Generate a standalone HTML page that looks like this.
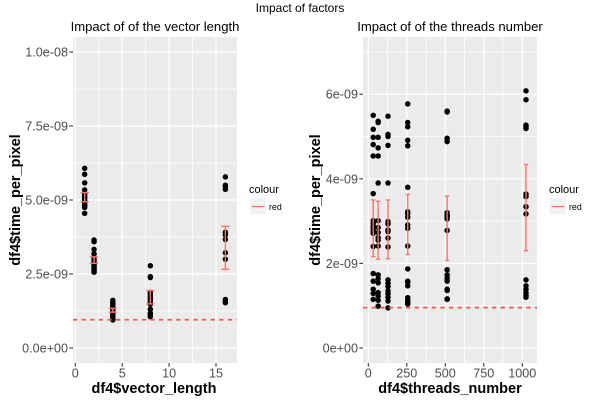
<!DOCTYPE html>
<html>
<head>
<meta charset="utf-8">
<style>
html,body{margin:0;padding:0;background:#fff;}
svg{display:block;font-family:"Liberation Sans",sans-serif;}
</style>
</head>
<body>
<svg id="chart" width="600" height="400" viewBox="0 0 600 400" xmlns="http://www.w3.org/2000/svg">
  <rect x="0" y="0" width="600" height="400" fill="#fff"/>
  <text x="300" y="12" font-size="12" text-anchor="middle" fill="#000">Impact of factors</text>

  <text x="155" y="31" font-size="13.1" text-anchor="middle" fill="#000">Impact of of the vector length</text>
  <text x="450" y="31" font-size="13.1" text-anchor="middle" fill="#000">Impact of of the threads number</text>

  <rect x="73" y="37" width="164" height="326" fill="#EBEBEB"/>
  <rect x="363" y="37" width="174" height="326" fill="#EBEBEB"/>
  <g id="left-panel"></g>
  <g id="right-panel"></g>

  <text x="154" y="393" font-size="14.5" font-weight="bold" text-anchor="middle" fill="#000">df4$vector_length</text>
  <text x="450" y="393" font-size="14.5" font-weight="bold" text-anchor="middle" fill="#000">df4$threads_number</text>
  <text transform="translate(20,200) rotate(-90)" font-size="14.5" font-weight="bold" text-anchor="middle" fill="#000">df4$time_per_pixel</text>
  <text transform="translate(320,200) rotate(-90)" font-size="14.5" font-weight="bold" text-anchor="middle" fill="#000">df4$time_per_pixel</text>

  <g>
    <text x="249" y="193" font-size="11" fill="#000">colour</text>
    <rect x="250" y="198" width="16" height="16" fill="#F2F2F2"/>
    <line x1="251.6" x2="264.4" y1="206.5" y2="206.5" stroke="#F8766D" stroke-width="1.3"/>
    <text x="269" y="210" font-size="8.8" fill="#000">red</text>
  </g>
  <g>
    <text x="549" y="193" font-size="11" fill="#000">colour</text>
    <rect x="550" y="198" width="16" height="16" fill="#F2F2F2"/>
    <line x1="551.6" x2="564.4" y1="206.5" y2="206.5" stroke="#F8766D" stroke-width="1.3"/>
    <text x="569" y="210" font-size="8.8" fill="#000">red</text>
  </g>
</svg>
<script>
// All times are in units of 1e-9 seconds per pixel.
var vectorLengths = [1, 2, 4, 8, 16];
var vectorPoints1 = [6.07,5.87,5.58,5.34,5.22,5.15,5.08,5.02,4.96,4.90,4.85,4.80,4.75,4.55];
var vectorPoints2 = [3.65,3.59,3.33,3.18,3.06,2.97,2.90,2.85,2.80,2.75,2.70,2.65,2.60,2.56];
var vectorPoints4 = [1.61,1.53,1.47,1.40,1.33,1.27,1.20,1.13,1.07,1.00,0.95];
var vectorPoints8 = [2.78,2.41,2.38,1.88,1.82,1.75,1.68,1.62,1.55,1.48,1.31,1.18,1.12,1.06];
var vectorPoints16 = [5.78,5.50,5.45,5.36,3.91,3.82,3.67,3.22,3.00,1.64,1.59,1.53];
var vectorErrTop = [5.25,3.08,1.34,1.94,4.11];
var vectorErrBottom = [4.94,2.86,1.21,1.49,2.66];

var threadCounts = [32, 64, 128, 256, 512, 1024];
var threadPoints32 = [5.50,5.17,4.98,4.81,4.54,3.65,3.01,2.95,2.88,2.83,2.77,2.71,2.40,1.76,1.58,1.39,1.29,1.15];
var threadPoints64 = [5.36,5.33,4.98,4.73,4.54,3.90,3.01,2.85,2.73,2.61,2.55,2.41,1.73,1.64,1.54,1.31,1.23,1.13,0.99];
var threadPoints128 = [5.48,5.05,5.00,4.79,3.90,2.99,2.93,2.79,2.75,2.60,2.39,1.61,1.53,1.45,1.35,1.28,1.20,1.11,0.95];
var threadPoints256 = [5.77,5.33,5.23,4.91,4.78,3.80,3.22,3.17,3.09,2.91,2.83,2.41,1.87,1.58,1.55,1.47,1.19,1.13,1.07,1.04];
var threadPoints512 = [5.60,5.58,4.96,4.88,3.20,3.14,3.10,3.05,2.78,1.85,1.73,1.65,1.58,1.39,1.36,1.16,1.15];
var threadPoints1024 = [6.08,5.87,5.27,5.23,5.19,3.64,3.58,3.34,3.17,1.61,1.47,1.39,1.31,1.25,1.20];
var threadErrTop = [3.50,3.47,3.50,3.63,3.59,4.34];
var threadErrBottom = [2.16,2.10,2.11,2.21,2.07,2.30];

var referenceLevel = [0.955];

var leftXTicks = [0, 5, 10, 15];
var leftXTickLabels = ["0", "5", "10", "15"];
var leftXMinor = [2.5, 7.5, 12.5];
var leftYTicks = [0, 2.5, 5, 7.5, 10];
var leftYTickLabels = ["0.0e+00", "2.5e-09", "5.0e-09", "7.5e-09", "1.0e-08"];
var leftYMinor = [1.25, 3.75, 6.25, 8.75];

var rightXTicks = [0, 250, 500, 750, 1000];
var rightXTickLabels = ["0", "250", "500", "750", "1000"];
var rightXMinor = [125, 375, 625, 875];
var rightYTicks = [0, 2, 4, 6];
var rightYTickLabels = ["0e+00", "2e-09", "4e-09", "6e-09"];
var rightYMinor = [1, 3, 5, 7];

var NS = "http://www.w3.org/2000/svg";

function xLeft(v) { return 75.3 + v * 9.38; }
function yLeft(v) { return 348 - v * 29.6; }
function xRight(v) { return 368.3 + v * 0.154; }
function yRight(v) { return 348 - v * 42.3; }

function drawPanel(cfg) {
  var g = document.getElementById(cfg.id);
  var box = cfg.box;

  function line(x1, y1, x2, y2, stroke, width) {
    var el = document.createElementNS(NS, "line");
    el.setAttribute("x1", x1);
    el.setAttribute("y1", y1);
    el.setAttribute("x2", x2);
    el.setAttribute("y2", y2);
    el.setAttribute("stroke", stroke);
    el.setAttribute("stroke-width", width);
    return el;
  }

  cfg.yMinor.forEach(function (v) {
    var el = line(box.x0, cfg.y(v), box.x1, cfg.y(v), "#fff", 0.7);
    
    
    g.appendChild(el);
  });
  cfg.xMinor.forEach(function (v) {
    var el = line(cfg.x(v), box.y0, cfg.x(v), box.y1, "#fff", 0.7);
    
    
    g.appendChild(el);
  });
  cfg.yTicks.forEach(function (v, i) {
    var el = line(box.x0, cfg.y(v), box.x1, cfg.y(v), "#fff", 1.2);
    
    
    g.appendChild(el);
    var tick = line(box.x0 - 3.7, cfg.y(v), box.x0, cfg.y(v), "#333", 1.07);
    
    
    g.appendChild(tick);
    var label = document.createElementNS(NS, "text");
    
    
    label.setAttribute("x", box.x0 - 5);
    label.setAttribute("y", cfg.y(v) + 4.5);
    label.setAttribute("font-size", "12.6");
    label.setAttribute("text-anchor", "end");
    label.setAttribute("fill", "#4D4D4D");
    label.textContent = cfg.yLabels[i];
    g.appendChild(label);
  });
  cfg.xTicks.forEach(function (v, i) {
    var el = line(cfg.x(v), box.y0, cfg.x(v), box.y1, "#fff", 1.2);
    
    
    g.appendChild(el);
    var tick = line(cfg.x(v), box.y1, cfg.x(v), box.y1 + 3.7, "#333", 1.07);
    
    
    g.appendChild(tick);
    var label = document.createElementNS(NS, "text");
    
    
    label.setAttribute("x", cfg.x(v));
    label.setAttribute("y", box.y1 + 14.5);
    label.setAttribute("font-size", "12.6");
    label.setAttribute("text-anchor", "middle");
    label.setAttribute("fill", "#4D4D4D");
    label.textContent = cfg.xLabels[i];
    g.appendChild(label);
  });

  cfg.categories.forEach(function (cat, i) {
    cfg.points[i].forEach(function (v) {
      var dot = document.createElementNS(NS, "circle");
      
      
      dot.setAttribute("cx", cfg.x(cat));
      dot.setAttribute("cy", cfg.y(v));
      dot.setAttribute("r", "2.75");
      dot.setAttribute("fill", "#000");
      g.appendChild(dot);
    });
  });

  var ref = line(box.x0, cfg.y(referenceLevel[0]), box.x1, cfg.y(referenceLevel[0]), "#F8564D", 1.8);
  
  
  ref.setAttribute("stroke-dasharray", "4.3 4.3");
  g.appendChild(ref);

  cfg.categories.forEach(function (cat, i) {
    var cx = cfg.x(cat);
    var top = cfg.y(cfg.errTop[i]);
    var bottom = cfg.y(cfg.errBottom[i]);
    var stem = line(cx, top, cx, bottom, "#F8766D", 1.4);
    
    
    g.appendChild(stem);
    var capTop = line(cx - cfg.cap, top, cx + cfg.cap, top, "#F8766D", 1.4);
    
    
    g.appendChild(capTop);
    var capBottom = line(cx - cfg.cap, bottom, cx + cfg.cap, bottom, "#F8766D", 1.4);
    
    
    g.appendChild(capBottom);
  });
}

drawPanel({
  id: "left-panel",
  box: { x0: 73, x1: 237, y0: 37, y1: 363 },
  x: xLeft, y: yLeft, cap: 4.2,
  categories: vectorLengths,
  points: [vectorPoints1, vectorPoints2, vectorPoints4, vectorPoints8, vectorPoints16],
  errTop: vectorErrTop, errBottom: vectorErrBottom,
  xTicks: leftXTicks, xLabels: leftXTickLabels, xMinor: leftXMinor,
  yTicks: leftYTicks, yLabels: leftYTickLabels, yMinor: leftYMinor
});

drawPanel({
  id: "right-panel",
  box: { x0: 363, x1: 537, y0: 37, y1: 363 },
  x: xRight, y: yRight, cap: 2.2,
  categories: threadCounts,
  points: [threadPoints32, threadPoints64, threadPoints128, threadPoints256, threadPoints512, threadPoints1024],
  errTop: threadErrTop, errBottom: threadErrBottom,
  xTicks: rightXTicks, xLabels: rightXTickLabels, xMinor: rightXMinor,
  yTicks: rightYTicks, yLabels: rightYTickLabels, yMinor: rightYMinor
});
</script>
</body>
</html>
